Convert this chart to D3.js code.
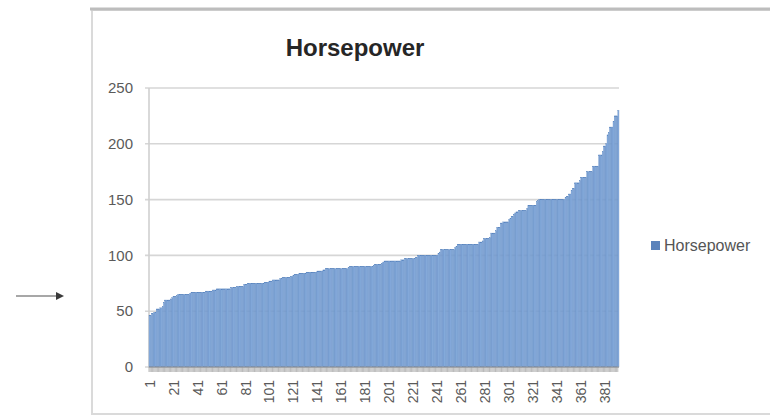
<!DOCTYPE html>
<html>
<head>
<meta charset="utf-8">
<script src="https://cdn.jsdelivr.net/npm/d3@7"></script>
<style>
  body { margin: 0; background: #fff; }
  svg { display: block; font-family: "Liberation Sans", Arial, sans-serif; }
</style>
</head>
<body>
<svg id="chart" width="770" height="417"></svg>
<script>
// Horsepower of each car, sorted ascending
const seriesName = "Horsepower";
const horsepower = [
  46,46,48,48,49,49,52,52,52,53,53,54,58,
  60,60,60,60,60,61,62,63,63,63,64,
  65,65,65,65,65,65,65,65,65,65,
  66,
  67,67,67,67,67,67,67,67,67,67,67,67,
  68,68,68,68,68,68,
  69,69,69,
  70,70,70,70,70,70,70,70,70,70,70,70,
  71,71,71,71,71,
  72,72,72,72,72,72,
  74,74,74,
  75,75,75,75,75,75,75,75,75,75,75,75,75,75,
  76,76,76,76,
  77,77,77,
  78,78,78,78,78,78,
  79,79,
  80,80,80,80,80,80,80,
  81,81,82,
  83,83,83,83,
  84,84,84,84,84,84,
  85,85,85,85,85,85,85,85,85,
  86,86,86,86,86,
  87,87,
  88,88,88,88,88,88,88,88,88,88,88,88,88,88,88,88,88,88,88,
  89,
  90,90,90,90,90,90,90,90,90,90,90,90,90,90,90,90,90,90,90,90,
  91,
  92,92,92,92,92,92,
  93,94,
  95,95,95,95,95,95,95,95,95,95,95,95,95,95,
  96,96,96,
  97,97,97,97,97,97,97,97,97,
  98,98,
  100,100,100,100,100,100,100,100,100,100,100,100,100,100,100,100,100,
  102,103,
  105,105,105,105,105,105,105,105,105,105,105,105,
  107,108,
  110,110,110,110,110,110,110,110,110,110,110,110,110,110,110,110,110,110,
  112,112,112,113,
  115,115,115,115,115,116,
  120,120,120,120,122,
  125,125,125,129,129,
  130,130,130,130,130,132,133,
  135,135,137,138,139,139,
  140,140,140,140,140,140,140,142,
  145,145,145,145,145,145,145,148,149,
  150,150,150,150,150,150,150,150,150,150,150,150,150,150,150,150,150,150,150,150,150,150,
  152,153,153,155,155,158,160,160,
  165,165,165,165,167,
  170,170,170,170,170,
  175,175,175,175,175,
  180,180,180,180,180,
  190,190,190,193,198,198,
  200,208,210,215,215,215,220,225,225,225,230
];
const categories = horsepower.map((d, i) => i + 1);
const xTickLabels = ["1","21","41","61","81","101","121","141","161","181",
                     "201","221","241","261","281","301","321","341","361","381"];
const yTickValues = [0, 50, 100, 150, 200, 250];

const svg = d3.select("#chart");
const plot = { left: 149, right: 619, top: 88, bottom: 367 };

const x = d3.scaleBand().domain(categories).range([plot.left, plot.right]).padding(0);
const y = d3.scaleLinear().domain([0, 250]).range([plot.bottom, plot.top]);

// chart area frame
svg.append("rect")
  .attr("x", 92).attr("y", 10).attr("width", 700).attr("height", 404)
  .attr("fill", "#fff").attr("stroke", "#dadada").attr("stroke-width", 2);
svg.append("line")
  .attr("x1", 90).attr("x2", 770).attr("y1", 9).attr("y2", 9)
  .attr("stroke", "#bdbdbd").attr("stroke-width", 3);

// title
svg.append("text")
  .attr("x", 355).attr("y", 56)
  .attr("text-anchor", "middle")
  .attr("font-size", 24).attr("font-weight", "bold")
  .attr("fill", "#262626")
  .text(seriesName);

// horizontal gridlines with short outside ticks
svg.append("g").selectAll("line")
  .data(yTickValues)
  .join("line")
  .attr("x1", plot.left - 4).attr("x2", plot.right)
  .attr("y1", d => y(d)).attr("y2", d => y(d))
  .attr("stroke", "#d6d6d6").attr("stroke-width", 1.6);

// value axis labels
svg.append("g").selectAll("text")
  .data(yTickValues)
  .join("text")
  .attr("x", 133).attr("y", d => y(d))
  .attr("dy", "0.35em")
  .attr("text-anchor", "end")
  .attr("font-size", 15)
  .attr("fill", "#5a5a5a")
  .text(d => d);

// value axis line
svg.append("line")
  .attr("x1", plot.left).attr("x2", plot.left)
  .attr("y1", plot.top).attr("y2", plot.bottom)
  .attr("stroke", "#d0d0d0").attr("stroke-width", 1.6);

// bars
svg.append("g").selectAll("rect")
  .data(horsepower)
  .join("rect")
  .attr("x", (d, i) => x(categories[i]))
  .attr("width", x.bandwidth())
  .attr("y", d => y(d))
  .attr("height", d => plot.bottom - y(d))
  .attr("fill", "#8aaedd")
  .attr("stroke", "#5682bd")
  .attr("stroke-width", 0.3);

// category axis: tick mark at every category
svg.append("g").selectAll("line")
  .data(categories)
  .join("line")
  .attr("x1", d => x(d)).attr("x2", d => x(d))
  .attr("y1", plot.bottom).attr("y2", plot.bottom + 5)
  .attr("stroke", "#8c8c8c").attr("stroke-width", 0.6);
svg.append("line")
  .attr("x1", plot.left).attr("x2", plot.right)
  .attr("y1", plot.bottom).attr("y2", plot.bottom)
  .attr("stroke", "#9a9a9a").attr("stroke-width", 1.2);

// category labels, rotated
svg.append("g").selectAll("text")
  .data(xTickLabels)
  .join("text")
  .attr("transform", d => `translate(${x(+d) + x.bandwidth() / 2 + 5},380) rotate(-90)`)
  .attr("text-anchor", "end")
  .attr("font-size", 14)
  .attr("fill", "#5a5a5a")
  .text(d => d);

// legend
svg.append("rect")
  .attr("x", 651).attr("y", 241).attr("width", 9).attr("height", 9)
  .attr("fill", "#5b83bb");
svg.append("text")
  .attr("x", 664).attr("y", 245.5)
  .attr("dy", "0.35em")
  .attr("font-size", 16)
  .attr("fill", "#555")
  .text(seriesName);

// pointer arrow at the left margin
svg.append("line")
  .attr("x1", 16).attr("x2", 60).attr("y1", 296).attr("y2", 296)
  .attr("stroke", "#8a8a8a").attr("stroke-width", 1.5);
svg.append("path")
  .attr("d", "M56,292 L64,296 L56,300 Z")
  .attr("fill", "#3a3a3a");
</script>
</body>
</html>
